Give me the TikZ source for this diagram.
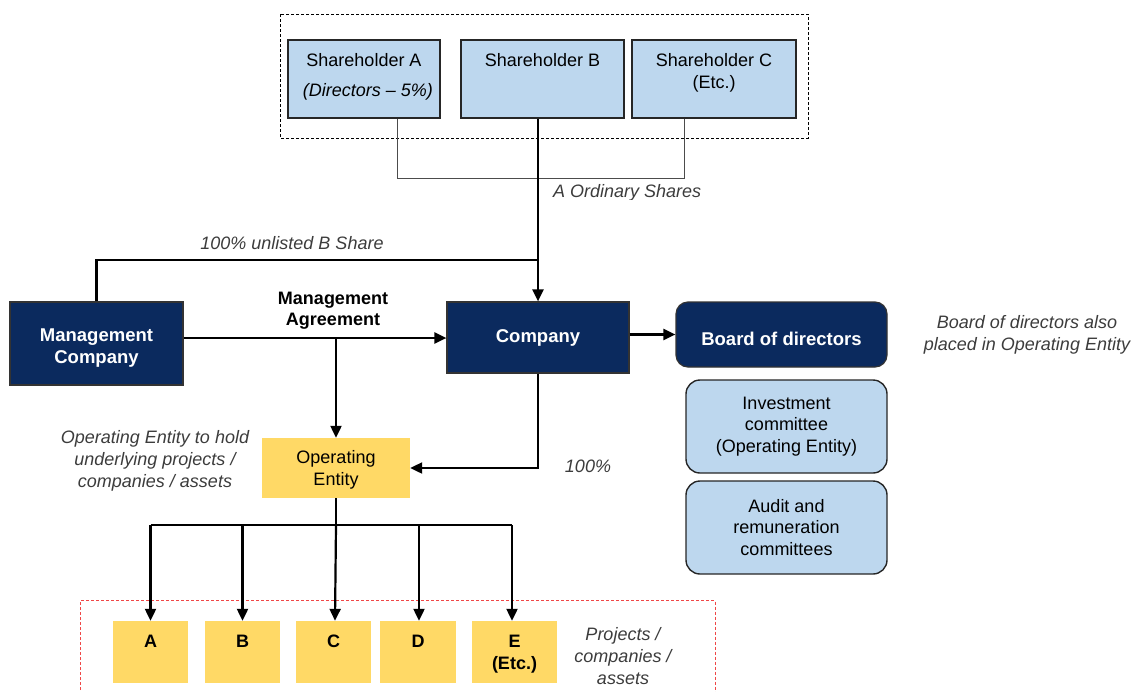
\documentclass[tikz,border=0pt]{standalone}
\usepackage{fontspec}
\setmainfont{Liberation Sans}
\usetikzlibrary{arrows.meta,calc}
\definecolor{navy}{RGB}{11,42,94}
\definecolor{lightblue}{RGB}{189,215,238}
\definecolor{goldy}{RGB}{255,217,102}
\definecolor{labelgray}{RGB}{60,60,60}
\definecolor{dashred}{RGB}{240,70,70}
\begin{document}
\begin{tikzpicture}[x=1pt,y=-1pt,
  every node/.style={font=\fontsize{18}{22}\selectfont, inner sep=0pt},
  shbox/.style={draw=black!85, line width=1.4pt, fill=lightblue},
  navybox/.style={draw=black!80, line width=1.2pt, fill=navy, text=white,
    font=\fontsize{18.5}{22}\selectfont\bfseries, align=center},
  navytext/.style={text=white, font=\fontsize{18.5}{22}\selectfont\bfseries, align=center},
  roundnavy/.style={navybox, rounded corners=12pt},
  commbox/.style={draw=black!85, line width=1.4pt, fill=lightblue, rounded corners=14pt,
    align=center, font=\fontsize{18}{21.5}\selectfont},
  yelbox/.style={fill=goldy, align=center},
  projbox/.style={fill=goldy, align=center, font=\fontsize{18}{22}\selectfont\bfseries},
  note/.style={text=labelgray, font=\fontsize{18}{22}\selectfont\itshape, align=center},
  thickline/.style={line width=2.2pt, black},
  arr/.style={thickline, -{Triangle[length=12pt,width=11pt]}},
  thinline/.style={line width=1pt, black!70}
]
\useasboundingbox (0,0) rectangle (1135,691);

% dashed frames
\draw[line width=0.8pt, dash pattern=on 3pt off 2pt] (280,14) rectangle (808,138);
\draw[dashred, line width=1pt, dash pattern=on 3pt off 2pt] (80.5,720) -- (80.5,600.5) -- (715,600.5) -- (715,720);

% shareholders
\node[shbox, minimum width=152pt, minimum height=78pt] (sa) at (364,79) {};
\node[shbox, minimum width=163pt, minimum height=78pt] (sb) at (542.5,79) {};
\node[shbox, minimum width=164pt, minimum height=78pt] (sc) at (714,79) {};
\node[anchor=base] (saT) at ([yshift=-27pt]sa.north) {Shareholder A};
\node[anchor=base, font=\fontsize{18}{22}\selectfont\itshape] (saT2) at ([xshift=4pt,yshift=-57pt]sa.north) {(Directors -- 5\%)};
\node[anchor=base] (sbT) at ([yshift=-27pt]sb.north) {Shareholder B};
\node[anchor=base] (scT) at ([yshift=-27pt]sc.north) {Shareholder C};
\node[anchor=base] (scT2) at ([yshift=-49pt]sc.north) {(Etc.)};

% main boxes
\node[navybox, minimum width=173pt, minimum height=83pt] (mc) at (96.5,343.5) {};
\node[navytext] (mcT) at (96.5,348) {Management\\Company};
\node[navybox, minimum width=182pt, minimum height=71pt] (co) at (538,337.5) {Company};
\node[roundnavy, minimum width=211pt, minimum height=65pt] (bd) at (781.5,334.5) {};
\node[navytext] (bdT) at (781.5,338.5) {Board of directors};
\node[commbox, minimum width=201pt, minimum height=93pt] (ic) at (786.5,426.5) {Investment\\committee\\(Operating Entity)};
\node[commbox, minimum width=201pt, minimum height=93pt] (au) at (786.5,527.5) {Audit and\\remuneration\\committees};
\node[yelbox, minimum width=148pt, minimum height=60pt] (oe) at (336,468) {};
\node[align=center] (oeT) at (336,470) {Operating\\Entity};

% project boxes
\node[projbox, minimum width=75pt, minimum height=62pt] (pA) at (150.5,652) {};
\node[projbox, minimum width=75pt, minimum height=62pt] (pB) at (242.5,652) {};
\node[projbox, minimum width=75pt, minimum height=62pt] (pC) at (333.5,652) {};
\node[projbox, minimum width=76pt, minimum height=62pt] (pD) at (418,652) {};
\node[projbox, minimum width=85pt, minimum height=62pt] (pE) at (514.5,652) {};
\node[anchor=base, font=\fontsize{18}{22}\selectfont\bfseries] (pAT) at ([yshift=-27pt]pA.north) {A};
\node[anchor=base, font=\fontsize{18}{22}\selectfont\bfseries] (pBT) at ([yshift=-27pt]pB.north) {B};
\node[anchor=base, font=\fontsize{18}{22}\selectfont\bfseries] (pCT) at ([yshift=-27pt]pC.north) {C};
\node[anchor=base, font=\fontsize{18}{22}\selectfont\bfseries] (pDT) at ([yshift=-27pt]pD.north) {D};
\node[anchor=base, font=\fontsize{18}{22}\selectfont\bfseries] (pET) at ([yshift=-27pt]pE.north) {E};
\node[anchor=base, font=\fontsize{18}{22}\selectfont\bfseries] (pET2) at ([yshift=-49pt]pE.north) {(Etc.)};

% coordinates
\coordinate (aj) at (397,178);
\coordinate (bj) at (538,260);
\coordinate (maj) at (336,338);
\coordinate (bus) at (336,525);

% connectors
\draw[thinline] ([xshift=33pt]sa.south) -- (aj) -| ([xshift=-30pt]sc.south);
\draw[arr] (co.north |- sb.south) -- (co.north);
\draw[thickline] (mc.north) |- (bj);
\draw[arr] (mc.east |- maj) -- (co.west |- maj);
\draw[arr] (maj) -- (oe.north);
\draw[arr] (co.south) |- (oe.east);
\draw[arr] (co.east |- bd.west) -- (bd.west);
\draw[thickline] (oe.south) -- (bus);
\draw[thickline] (pA.north |- bus) -- ([xshift=-2.5pt]pE.north |- bus);
\draw[arr] (pA.north |- bus) -- (pA.north);
\draw[arr] (pB.north |- bus) -- (pB.north);
\draw[arr] (bus) -- ([xshift=1.5pt]pC.north);
\draw[arr] ([xshift=1pt]pD.north |- bus) -- ([xshift=1pt]pD.north);
\draw[arr] ([xshift=-2.5pt]pE.north |- bus) -- ([xshift=-2.5pt]pE.north);

% labels
\begin{scope}
  \clip (540,170) rectangle (730,199);
  \node[note, anchor=base west] (aos) at (553,197) {A Ordinary Shares};
\end{scope}
\node[note] (bsh) at (292,243) {100\% unlisted B Share};
\node[font=\fontsize{18}{21}\selectfont\bfseries, align=center] (mag) at (333,311) {Management\\Agreement};
\node[note] (hund) at (588,466) {100\%};
\node[note] (oenote) at (155,461) {Operating Entity to hold\\underlying projects /\\companies / assets};
\node[note] (bdnote) at (1027,335) {Board of directors also\\placed in Operating Entity};
\node[note] (pnote) at (623,656) {Projects /\\companies /\\assets};
\end{tikzpicture}
\end{document}
